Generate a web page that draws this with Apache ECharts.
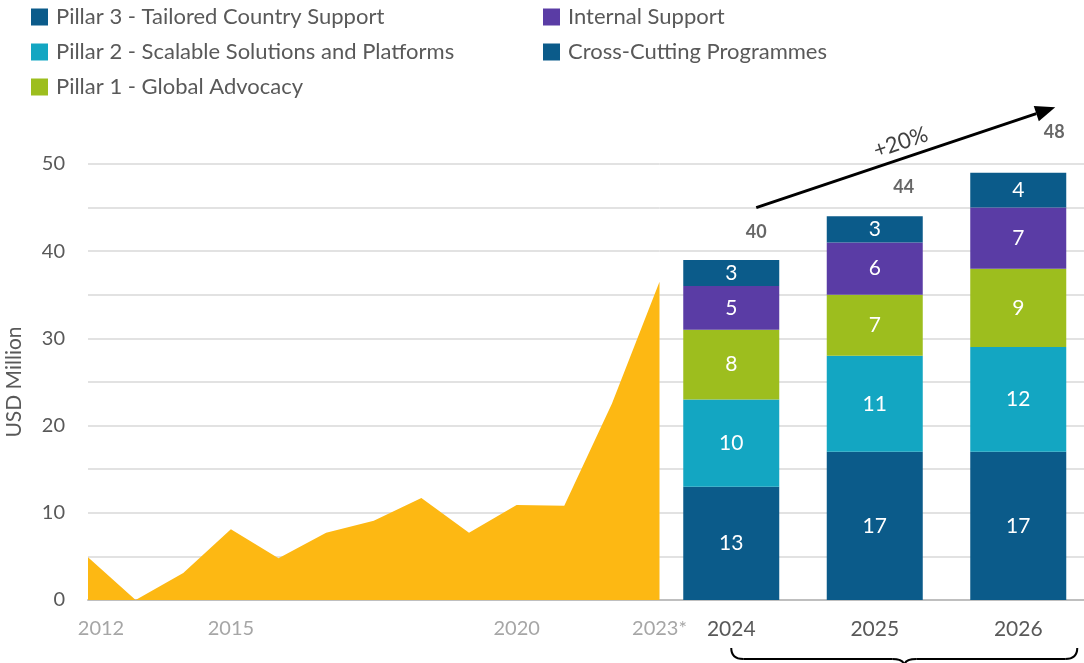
<!DOCTYPE html>
<html>
<head>
<meta charset="utf-8">
<script src="https://cdn.jsdelivr.net/npm/echarts@6/dist/echarts.min.js"></script>
<style>
  html, body { margin: 0; padding: 0; background: #fff; }
  #chart { width: 1084px; height: 663px; }
</style>
</head>
<body>
<div id="chart"></div>
<script>
// historical funding (area), one point per period
const areaLabels = ['2012', '', '', '2015', '', '', '', '', '', '2020', '', '', '2023*']
const areaValues = [4.9, 0, 3.1, 8.1, 4.8, 7.7, 9.1, 11.7, 7.7, 10.9, 10.8, 22.5, 36.5]

// planned budget by pillar
const planYears = ['2024', '2025', '2026']
const pillar3 = [13, 17, 17]
const pillar2 = [10, 11, 12]
const pillar1 = [8, 7, 9]
const internalSupport = [5, 6, 7]
const crossCutting = [3, 3, 4]
const totals = [40, 44, 48]

const greyText = '#595959'
const font = 'Lato, "Open Sans", sans-serif'

const chart = echarts.init(document.getElementById('chart'), null, { renderer: 'canvas' })

const barLabel = {
  show: true,
  position: 'inside',
  color: '#fff',
  fontSize: 21,
  fontFamily: font
}

const barSeries = (name, data, color) => ({
  name,
  type: 'bar',
  stack: 'plan',
  xAxisIndex: 1,
  yAxisIndex: 1,
  barWidth: 96,
  data,
  itemStyle: { color },
  label: barLabel
})

// small nudges so the totals sit like in the original
const totalShift = [[25, -5], [29, -15], [36, -35]]

const legendBase = {
  orient: 'vertical',
  top: 6,
  padding: 0,
  icon: 'rect',
  itemWidth: 17,
  itemHeight: 17,
  itemGap: 13,
  textStyle: { fontSize: 22, lineHeight: 22, color: greyText, fontFamily: font, padding: [0, 0, 0, 3] }
}

const option = {
  backgroundColor: '#fff',
  animation: false,
  textStyle: { fontFamily: font },
  legend: [
    { ...legendBase, left: 31, data: ['Pillar 3 - Tailored Country Support', 'Pillar 2 - Scalable Solutions and Platforms', 'Pillar 1 - Global Advocacy'] },
    { ...legendBase, left: 543, data: ['Internal Support', 'Cross-Cutting Programmes'] }
  ],
  grid: [
    { left: 88, width: 571.5, top: 164, bottom: 63, outerBoundsMode: 'none' },
    { left: 659.5, right: -6, top: 164, bottom: 63, outerBoundsMode: 'none' }
  ],
  xAxis: [
    {
      type: 'category',
      gridIndex: 0,
      data: areaLabels,
      boundaryGap: false,
      axisLine: { lineStyle: { color: '#bfbfbf', width: 2 } },
      axisTick: { show: false },
      axisLabel: {
        interval: 0,
        color: '#a6a6a6',
        fontSize: 20,
        fontFamily: font,
        margin: 19,
        formatter: (v, i) => (i === 0 ? '{first|' + v + '}' : v),
        rich: { first: { padding: [0, 0, 0, 26], fontSize: 20, color: '#a6a6a6', fontFamily: font } }
      }
    },
    {
      type: 'category',
      gridIndex: 1,
      data: planYears,
      axisLine: { lineStyle: { color: '#bfbfbf', width: 2 } },
      axisTick: { show: false },
      axisLabel: { color: greyText, fontSize: 21, fontFamily: font, margin: 19 }
    }
  ],
  yAxis: [
    {
      type: 'value',
      gridIndex: 0,
      min: 0,
      max: 50,
      interval: 5,
      name: 'USD Million',
      nameLocation: 'middle',
      nameGap: 63,
      nameTextStyle: { fontSize: 21, color: greyText, fontFamily: font },
      axisLine: { show: false },
      axisTick: { show: false },
      axisLabel: {
        color: greyText,
        fontSize: 20,
        fontFamily: font,
        margin: 23,
        formatter: v => (v % 10 === 0 ? v : '')
      },
      splitLine: { lineStyle: { color: '#d9d9d9', width: 1.5 } }
    },
    {
      type: 'value',
      gridIndex: 1,
      min: 0,
      max: 50,
      interval: 5,
      axisLine: { show: false },
      axisTick: { show: false },
      axisLabel: { show: false },
      splitLine: { lineStyle: { color: '#d9d9d9', width: 1.5 } }
    }
  ],
  series: [
    {
      name: 'History',
      type: 'line',
      xAxisIndex: 0,
      yAxisIndex: 0,
      data: areaValues,
      symbol: 'none',
      lineStyle: { width: 0 },
      areaStyle: { color: '#FDB813', opacity: 1 },
      z: 1
    },
    barSeries('Pillar 3 - Tailored Country Support', pillar3, '#0B5B8A'),
    barSeries('Pillar 2 - Scalable Solutions and Platforms', pillar2, '#13A6C2'),
    barSeries('Pillar 1 - Global Advocacy', pillar1, '#9DBE1E'),
    barSeries('Internal Support', internalSupport, '#5A3CA5'),
    barSeries('Cross-Cutting Programmes', crossCutting, '#0B5B8A'),
    {
      name: 'Total',
      type: 'scatter',
      xAxisIndex: 1,
      yAxisIndex: 1,
      symbolSize: 0,
      data: totals.map((v, i) => ({
        value: v,
        label: { offset: totalShift[i] }
      })),
      label: {
        show: true,
        position: 'top',
        color: '#404040',
        fontSize: 18,
        fontWeight: 'bold',
        fontFamily: font
      },
      z: 5
    }
  ]
}

chart.setOption(option)

// annotations: growth arrow and bracket under the plan years
const toPx = (cat, val) => chart.convertToPixel({ xAxisIndex: 1, yAxisIndex: 1 }, [cat, val])
const p0 = toPx('2024', 45)
const p1 = toPx('2026', 56.5)
const start = [p0[0] + 25, p0[1]]
const end = [p1[0] + 37, p1[1]]
const ang = Math.atan2(end[1] - start[1], end[0] - start[0])
const headLen = 20
const headW = 8
const base = [end[0] - headLen * Math.cos(ang), end[1] - headLen * Math.sin(ang)]
const nx = -Math.sin(ang)
const ny = Math.cos(ang)

const bx0 = toPx('2024', 0)[0]
const bx1 = toPx('2026', 0)[0] + 59
const bMid = (bx0 + bx1) / 2
const by = 659
const braceStyle = { stroke: '#000', lineWidth: 2, fill: null }

chart.setOption({
  graphic: [
    {
      type: 'line',
      shape: { x1: start[0], y1: start[1], x2: base[0], y2: base[1] },
      style: { stroke: '#000', lineWidth: 3 }
    },
    {
      type: 'polygon',
      shape: {
        points: [
          end,
          [base[0] + nx * headW, base[1] + ny * headW],
          [base[0] - nx * headW, base[1] - ny * headW]
        ]
      },
      style: { fill: '#000' }
    },
    {
      type: 'text',
      x: (start[0] + end[0]) / 2 - 5,
      y: (start[1] + end[1]) / 2 - 15,
      rotation: -ang,
      style: {
        text: '+20%',
        fontSize: 22,
        fontFamily: font,
        fill: '#404040',
        align: 'center',
        verticalAlign: 'middle',
        backgroundColor: 'rgba(255,255,255,0.8)'
      }
    },
    { type: 'bezierCurve', shape: { x1: bx0, y1: by - 11, cpx1: bx0, cpy1: by, x2: bx0 + 12, y2: by }, style: braceStyle },
    { type: 'line', shape: { x1: bx0 + 12, y1: by, x2: bMid - 12, y2: by }, style: braceStyle },
    { type: 'bezierCurve', shape: { x1: bMid - 12, y1: by, cpx1: bMid, cpy1: by, x2: bMid, y2: by + 7 }, style: braceStyle },
    { type: 'bezierCurve', shape: { x1: bMid, y1: by + 7, cpx1: bMid, cpy1: by, x2: bMid + 12, y2: by }, style: braceStyle },
    { type: 'line', shape: { x1: bMid + 12, y1: by, x2: bx1 - 12, y2: by }, style: braceStyle },
    { type: 'bezierCurve', shape: { x1: bx1 - 12, y1: by, cpx1: bx1, cpy1: by, x2: bx1, y2: by - 11 }, style: braceStyle }
  ]
})
</script>
</body>
</html>
